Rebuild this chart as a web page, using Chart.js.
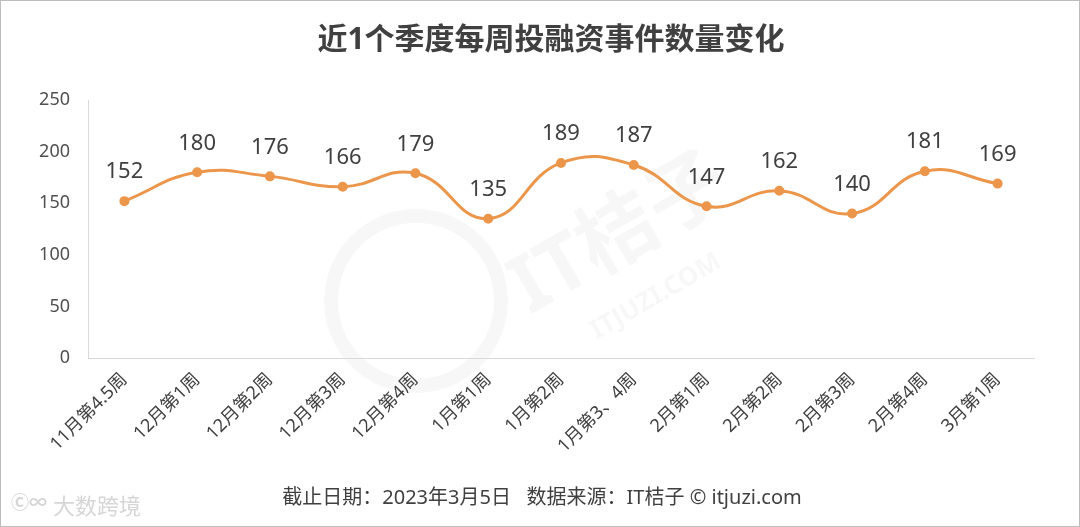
<!DOCTYPE html>
<html>
<head>
<meta charset="utf-8">
<script src="https://cdn.jsdelivr.net/npm/chart.js@4/dist/chart.umd.min.js"></script>
<style>
  html, body { margin: 0; padding: 0; background: #fff; }
  #wrap { position: relative; width: 1080px; height: 527px; box-sizing: border-box; border: 1px solid #bdbdbd; }
  canvas { display: block; }
</style>
</head>
<body>
<div id="wrap"><canvas id="weekChart" width="1078" height="525"></canvas></div>
<script>
var weekLabels = ['11月第4.5周', '12月第1周', '12月第2周', '12月第3周', '12月第4周', '1月第1周', '1月第2周', '1月第3、4周', '2月第1周', '2月第2周', '2月第3周', '2月第4周', '3月第1周'];
var eventCounts = [152, 180, 176, 166, 179, 135, 189, 187, 147, 162, 140, 181, 169];
var yTicks = [0, 50, 100, 150, 200, 250];

var titleText = '近1个季度每周投融资事件数量变化';
var footerText = '截止日期：2023年3月5日   数据来源：IT桔子 © itjuzi.com';
var FONT = '"Noto Sans", "Noto Sans CJK SC", sans-serif';

// title, footer, watermarks and value labels
var decorPlugin = {
    id: 'decor',
    beforeDraw: function(chart) {
        var c = chart.ctx;
        c.save();
        // faint big watermark
        c.strokeStyle = 'rgba(0,0,0,0.03)';
        c.lineWidth = 14;
        c.beginPath();
        c.arc(415, 300, 85, 0, Math.PI * 2);
        c.stroke();
        c.translate(620, 235);
        c.rotate(-Math.PI / 6);
        c.fillStyle = 'rgba(0,0,0,0.03)';
        c.font = 'bold 80px ' + FONT;
        c.textAlign = 'center';
        c.textBaseline = 'middle';
        c.fillText('IT桔子', 0, 0);
        c.font = 'bold 26px ' + FONT;
        c.fillText('ITJUZI.COM', 0, 70);
        c.restore();
    },
    afterDraw: function(chart) {
        var c = chart.ctx;
        c.save();
        c.textAlign = 'center';
        c.textBaseline = 'middle';
        c.fillStyle = '#404040';
        c.font = 'bold 30px ' + FONT;
        c.fillText(titleText, 550, 39);
        c.font = '20px ' + FONT;
        c.fillText(footerText, 541, 497);
        c.fillStyle = '#d6d6d6';
        c.font = '22px ' + FONT;
        c.textAlign = 'left';
        c.fillText('大数跨境', 52, 507);
        c.font = 'bold 18px ' + FONT;
        c.fillText('Ⓒ∞', 10, 503);

        var meta = chart.getDatasetMeta(0);
        c.fillStyle = '#404040';
        c.font = '22px ' + FONT;
        c.textAlign = 'center';
        meta.data.forEach(function(pt, i) {
            c.fillText(String(eventCounts[i]), pt.x, pt.y - 29);
        });
        c.restore();
    }
};

var ctx = document.getElementById('weekChart').getContext('2d');
var myChart = new Chart(ctx, {
    type: 'line',
    data: {
        labels: weekLabels,
        datasets: [
            {
            label: '投融资事件数量',
            data: eventCounts,
            borderColor: 'rgb(235, 150, 75)',
            backgroundColor: 'rgb(235, 150, 75)',
            borderWidth: 3,
            pointRadius: 3.5,
            pointHoverRadius: 3.5,
            tension: 0.45
        }
        ]
    },
    options: {
        responsive: false,
        animation: false,
        layout: {
            padding: { top: 99, right: 45, left: 0, bottom: 0 }
        },
        plugins: {
            legend: { display: false },
            tooltip: { enabled: false },
            title: { display: false }
        },
        scales: {
            x: {
                offset: true,
                grid: { display: false, drawTicks: false },
                border: { color: '#d9d9d9', width: 1 },
                ticks: {
                    color: '#404040',
                    font: { family: FONT, size: 18 },
                    minRotation: 45,
                    maxRotation: 45,
                    padding: 11,
                    autoSkip: false
                },
                afterFit: function(scale) { scale.height = 168; }
            },
            y: {
                min: 0,
                max: 250,
                afterBuildTicks: function(scale) {
                    scale.ticks = yTicks.map(function(v) { return { value: v }; });
                },
                grid: { display: false, drawTicks: false },
                border: { color: '#d9d9d9', width: 1 },
                ticks: {
                    color: '#505050',
                    font: { family: FONT, size: 18 },
                    padding: 18
                },
                afterFit: function(scale) { scale.width = 87; }
            }
        }
    },
    plugins: [decorPlugin]
});
</script>
</body>
</html>
